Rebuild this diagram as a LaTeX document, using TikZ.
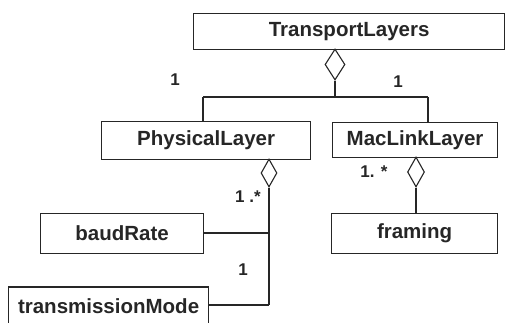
\documentclass[tikz,border=0pt]{standalone}
\usepackage{fontspec}
\setmainfont{Liberation Sans}
\usetikzlibrary{shapes.geometric}
\begin{document}
\begin{tikzpicture}[x=1pt,y=-1pt,
  cls/.style={draw=black!85,line width=1.2pt,inner sep=0pt,anchor=north west,
    font=\fontsize{20.5}{24}\selectfont\bfseries,text=black!85},
  agg/.style={draw=black!85,line width=1.1pt,shape=diamond,inner sep=0pt,fill=white},
  conn/.style={draw=black!85,line width=1.1pt},
  mult/.style={font=\fontsize{17}{20}\selectfont\bfseries,text=black!85,inner sep=0pt}]
\useasboundingbox (0,0) rectangle (505,322);
\clip (0,0) rectangle (505,322);
% classes
\node[cls,minimum width=311pt,minimum height=36pt] (tl) at (193,13) {TransportLayers};
\node[cls,minimum width=209pt,minimum height=38pt] (pl) at (101,121) {PhysicalLayer};
\node[cls,minimum width=165pt,minimum height=35pt] (ml) at (332,122) {MacLinkLayer};
\node[cls,minimum width=163pt,minimum height=40pt] (br) at (40,213) {baudRate};
\node[cls,minimum width=166pt,minimum height=40pt] (fr) at (331,213) {framing};
\node[cls,minimum width=200pt,minimum height=40pt,anchor=west,text height=14pt] (tm) at (8,307) {transmissionMode};
% aggregation diamonds
\node[agg,minimum width=20pt,minimum height=31pt] (d1) at (335,64.5) {};
\node[agg,minimum width=16pt,minimum height=28pt] (d2) at (269,173) {};
\node[agg,minimum width=17pt,minimum height=30pt] (d3) at (416,172) {};
% junctions
\coordinate (j1) at (335,97);
\coordinate (jl) at (203,97);
\coordinate (jr) at (428,97);
\coordinate (jb) at (269,233);
\coordinate (jt) at (269,305);
% connectors
\draw[conn] (d1.south) -- (j1);
\draw[conn] (jl) -- (jr);
\draw[conn] (jl) -- (jl |- pl.north);
\draw[conn] (jr) -- (jr |- ml.north);
\draw[conn] (d2.south) -- (jt);
\draw[conn] (br.east |- jb) -- (jb);
\draw[conn] (tm.east |- jt) -- (jt);
\draw[conn] (d3.south) -- (d3.south |- fr.north);
% multiplicities
\node[mult] (m1) at (175,80) {1};
\node[mult] (m2) at (398,82) {1};
\node[mult] (m3) at (248,197) {1 .*};
\node[mult] (m4) at (243,270) {1};
\node[mult] (m5) at (374,172) {1. *};
\end{tikzpicture}
\end{document}
